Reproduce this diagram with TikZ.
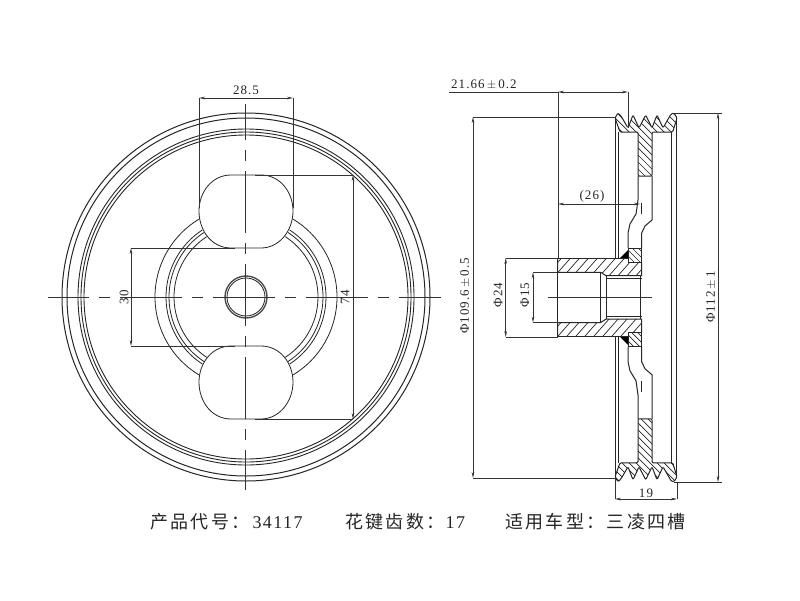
\documentclass[tikz,border=0pt]{standalone}
\usepackage{fontspec}
\setmainfont[LetterSpace=8]{Liberation Serif}
\newfontfamily\cjk[LetterSpace=13]{Noto Sans CJK SC}
\usetikzlibrary{arrows.meta,positioning,calc}

\begin{document}
\begin{tikzpicture}[
    x=1pt, y=-1pt,
    part/.style={line width=1pt, black!85},
    thinpart/.style={line width=0.8pt, black!85},
    centre/.style={line width=0.7pt, black!80, dash pattern=on 62pt off 10pt on 11pt off 10pt},
    hatchline/.style={line width=0.7pt, black!85},
    dim/.style={line width=0.7pt, black!80},
    dimarrow/.style={dim, {Stealth[length=6pt,width=2.6pt]}-{Stealth[length=6pt,width=2.6pt]}},
    dimlabel/.style={font=\fontsize{13}{13}\selectfont, black!85, inner sep=0pt},
    caption/.style={font=\fontsize{18}{18}\selectfont, black!85, inner sep=0pt, anchor=west}
]
\useasboundingbox (0,0) rectangle (800,600);
\fill[white] (0,0) rectangle (800,600);

% front view
\coordinate (ctr) at (246,297);
\foreach \rad/\wid in {184/1, 179/1, 168/0.9, 165/0.9, 162/0.9}
    \draw[line width=\wid pt, black!85] (ctr) circle (\rad);
\draw[line width=1.4pt, black!70] (ctr) circle (21);
\draw[thinpart] (ctr) circle (19);

% rings, broken by the two windows
\foreach \rad/\ang in {91/59, 80/57, 77/57, 72/57} {
    \draw[thinpart] (ctr) ++(\ang:\rad) arc (\ang:-\ang:\rad);
    \draw[thinpart] (ctr) ++(180-\ang:\rad) arc (180-\ang:180+\ang:\rad);
}

% windows
\draw[thinpart] (231,175) -- (261,175) .. controls (280,175) and (293,192) .. (293,211)
    .. controls (293,231) and (279,248) .. (261,248) -- (231,248)
    .. controls (212,248) and (199,231) .. (199,211) .. controls (199,192) and (212,175) .. (231,175) -- cycle;
\draw[thinpart] (231,346) -- (261,346) .. controls (280,346) and (293,363) .. (293,382)
    .. controls (293,402) and (279,419) .. (261,419) -- (231,419)
    .. controls (212,419) and (199,402) .. (199,382) .. controls (199,363) and (212,346) .. (231,346) -- cycle;

% centre lines
\draw[centre, dash phase=21pt] (48,297) -- (441,297);
\draw[centre, dash phase=26pt] (245.7,104) -- (245.7,490);

% front view dimensions
\coordinate (w1) at (199,98);
\coordinate (w2) at (293,98);
\draw[dimarrow] (w1) -- (w2);
\draw[dim] (w1) -- (199,208);
\draw[dim] (w2) -- (293,208);
\node[dimlabel] (lblwidth) at (246,90) {28.5};

\coordinate (g1) at (131,248);
\coordinate (g2) at (131,346);
\draw[dimarrow] (g1) -- (g2);
\draw[dim] (g1) -- (235,248);
\draw[dim] (g2) -- (235,346);
\node[dimlabel, rotate=90] (lblgap) at (124,297) {30};

\coordinate (h1) at (353,175);
\coordinate (h2) at (353,419);
\draw[dimarrow] (h1) -- (h2);
\draw[dim] (h1) -- (255,175);
\draw[dim] (h2) -- (255,419);
\node[dimlabel, rotate=90] (lblheight) at (345,297) {74};

% side view: the outline is mirrored, the hatching keeps its slant on screen
\foreach \flip/\rimtop/\rimbot/\flgtop/\flgbot/\hubtop/\hubbot in {1/562/642/606/631/535/557, -1/633/553/636/611/557/535} {
\begin{scope}[shift={(0,297.4)}, yscale=\flip, shift={(0,-297.4)}]
    % rim with the grooves
    \begin{scope}
        \clip (615,118) -- (618,113) -- (621,116) -- (628,128) -- (633,115) -- (639,128) -- (645.7,115)
            -- (652,128) -- (657,115) -- (663,128) -- (671,114) -- (674,113) -- (677,118)
            -- (672.7,132) -- (652,132) -- (652,176) -- (638,176) -- (638,132) -- (620,132) -- cycle;
        \foreach \i in {0,...,15}
            \draw[hatchline] (\rimtop+\i*7,100) -- (\rimbot+\i*7,180);
    \end{scope}
    \draw[part, rounded corners=1.2pt] (615,118) -- (618,113) -- (621,116) -- (628,128) -- (633,115) -- (639,128) -- (645.7,115)
        -- (652,128) -- (657,115) -- (663,128) -- (671,114) -- (674,113) -- (677,118)
        -- (672.7,132) -- (652,132) -- (652,176) -- (638,176) -- (638,132) -- (620,132) -- cycle;
    % rim walls
    \draw[part] (615,118) -- (615,258);
    \draw[part] (618.5,132) -- (618.5,258);
    \draw[part] (671.7,132) -- (671.7,297.4);
    \draw[part] (676.7,118) -- (676.7,297.4);
    % web
    \draw[part] (638,176) -- (638,200) -- (636,214) -- (630,224) -- (628,233) -- (628,248);
    \draw[part] (641.7,203) -- (641.7,214);
    \draw[part] (652,176) -- (652,220) -- (645,226) -- (641.7,233) -- (641.7,248);
    % hub flange
    \begin{scope}
        \clip (628,248) -- (641.7,248) -- (641.7,262) -- (628,262) -- cycle;
        \foreach \i in {0,...,5}
            \draw[hatchline] (\flgtop+\i*6,240) -- (\flgbot+\i*6,265);
    \end{scope}
    \draw[part] (628,248) -- (641.7,248) -- (641.7,262) -- (628,262) -- cycle;
    \fill[black] (620,258) -- (628,250) -- (628,258) -- cycle;
    % hub wall
    \begin{scope}
        \clip (557.7,258) -- (628,258) -- (628,262) -- (641.7,262) -- (641.7,275.7) -- (606,275.7) -- (600.7,272.3) -- (557.7,272.3) -- cycle;
        \foreach \i in {0,...,13}
            \draw[hatchline] (\hubtop+\i*9,278) -- (\hubbot+\i*9,253);
    \end{scope}
    \draw[part] (557.7,258) -- (628,258);
    \draw[part] (557.7,258) -- (557.7,272.3) -- (600.7,272.3) -- (606,275.7) -- (641.7,275.7) -- (641.7,262);
    % bore lines
    \draw[thinpart] (600.7,272.3) -- (600.7,297.4);
    \draw[thinpart] (606,275.7) -- (606,297.4);
    \draw[thinpart] (606,278) -- (641.7,278);
\end{scope}
}
\draw[part] (557.7,272.3) -- (557.7,322.5);
\draw[part] (640,275.7) -- (640,319.1);
\draw[dim] (548,297) -- (652,297);

% side view dimensions
\coordinate (t1) at (558,92);
\coordinate (t2) at (628,92);
\draw[dim] (449,92) -- (t1);
\draw[dimarrow] (t1) -- (t2);
\draw[dim] (t1) -- (558,258);
\draw[dim] (t2) -- (628,128);
\node[dimlabel, anchor=west] (lblthick) at (451,85) {21.66\,$\pm$\,0.2};

\coordinate (d1) at (473,117);
\coordinate (d2) at (473,478);
\draw[dimarrow] (d1) -- (d2);
\draw[dim] (d1) -- (616,117);
\draw[dim] (d2) -- (616,478);
\node[dimlabel, rotate=90] (lblinner) at (465,296) {Φ109.6\,$\pm$\,0.5};

\coordinate (o1) at (718,113);
\coordinate (o2) at (718,482);
\draw[dimarrow] (o1) -- (o2);
\draw[dim] (674,113) -- (722,113);
\draw[dim] (674,482) -- (722,482);
\node[dimlabel, rotate=90] (lblouter) at (711,297) {Φ112\,$\pm$\,1};

\coordinate (k1) at (558,204);
\coordinate (k2) at (640,204);
\draw[dimarrow] (k1) -- (k2);
\node[dimlabel] (lbldepth) at (592,196) {(26)};

\coordinate (b1) at (505.7,258);
\coordinate (b2) at (505.7,337);
\draw[dimarrow] (b1) -- (b2);
\draw[dim] (b1) -- (557.7,258);
\draw[dim] (b2) -- (557.7,337);
\node[dimlabel, rotate=90] (lblhub) at (498,295) {Φ24};

\coordinate (s1) at (533,272.3);
\coordinate (s2) at (533,322.5);
\draw[dimarrow] (s1) -- (s2);
\draw[dim] (s1) -- (557.7,272.3);
\draw[dim] (s2) -- (557.7,322.5);
\node[dimlabel, rotate=90] (lblbore) at (525,295) {Φ15};

\coordinate (r1) at (615,499);
\coordinate (r2) at (677,499);
\draw[dimarrow] (r1) -- (r2);
\draw[dim] (615,478) -- (r1);
\draw[dim] (677,482) -- (r2);
\node[dimlabel] (lblrim) at (646,493) {19};

% caption
\node[caption] (capcode) at (150,522) {{\cjk 产品代号：}\hspace{3pt}34117};
\node[caption] (capteeth) at (345,522) {{\cjk 花键齿数：}\hspace{1pt}17};
\node[caption] (capcar) at (505,522) {{\cjk 适用车型：三凌四槽}};
\end{tikzpicture}
\end{document}
